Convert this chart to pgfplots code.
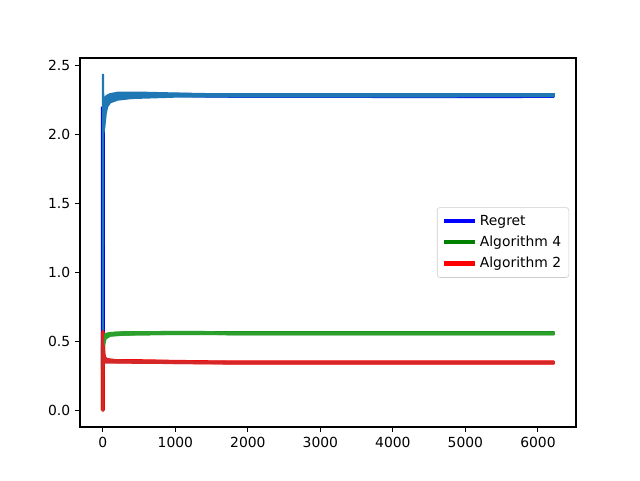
\documentclass[border=0pt]{standalone}
\usepackage{pgfplots}
\pgfplotsset{compat=1.18}
\usepackage{fontspec}
\setmainfont{DejaVu Sans}
\usetikzlibrary{calc}
\definecolor{tabblue}{HTML}{1F77B4}
\definecolor{tabgreen}{HTML}{2CA02C}
\definecolor{tabred}{HTML}{D62728}
\definecolor{mgreen}{RGB}{0,128,0}
\begin{document}
\begin{tikzpicture}
\begin{axis}[name=ax,
  scale only axis, width=357.1pt, height=265.7pt,
  xmin=-315, xmax=6525, ymin=-0.1215, ymax=2.552,
  xtick={0,1000,2000,3000,4000,5000,6000},
  ytick={0,0.5,1.0,1.5,2.0,2.5},
  yticklabel style={/pgf/number format/.cd, fixed, fixed zerofill, precision=1},
  xticklabel style={/pgf/number format/.cd, set thousands separator={}},
  /pgf/number format/assume math mode=true,
  tick align=outside, tick pos=left,
  major tick length=3.5pt,
  every tick/.style={black, line width=0.8pt},
  axis line style={line width=0.8pt},
  tick label style={font=\fontsize{10}{12}\selectfont},
  legend style={at={(0.986,0.5)}, anchor=east, draw=black!20, rounded corners=2pt,
    font=\fontsize{10}{12}\selectfont, row sep=2.2pt, inner sep=3.5pt},
  legend cell align=left,
  legend image code/.code={\draw[#1, line width=3pt] (0cm,0cm) -- (0.78cm,0cm);},
  clip=true,
]
% main lines
\addplot[blue, line width=3pt] coordinates {
(0,0.3)(1,2.1)(2,2.2)(3,2.15)(5,2.18)(10,2.12)(20,2.2)(40,2.22)(60,2.24)(100,2.25)(150,2.26)(200,2.27)(300,2.275)(400,2.28)(600,2.285)(800,2.28)(1000,2.285)(1500,2.28)(2000,2.278)(3000,2.278)(4000,2.277)(5000,2.276)(6220,2.278)};
\addlegendentry{Regret}
\addplot[mgreen, line width=3pt] coordinates {
(0,0.0)(1,0.35)(2,0.45)(5,0.5)(10,0.52)(20,0.535)(50,0.545)(100,0.55)(200,0.555)(500,0.558)(1000,0.56)(2000,0.558)(6220,0.558)};
\addlegendentry{Algorithm 4}
\addplot[red, line width=3pt] coordinates {
(0,0.0)(1,0.57)(2,0.5)(3,0.45)(5,0.42)(10,0.4)(20,0.38)(30,0.37)(50,0.365)(100,0.36)(200,0.355)(500,0.355)(800,0.352)(1000,0.35)(1500,0.347)(2000,0.346)(6220,0.346)};
\addlegendentry{Algorithm 2}
% bands
\addplot[fill=tabblue, draw=tabblue, line width=1.5pt, forget plot] coordinates {
(0,2.43)(2,2.43)(4,2.3)(10,2.25)(20,2.24)(40,2.27)(60,2.28)(100,2.29)(200,2.3)(300,2.3)(600,2.3)(1000,2.295)(1500,2.29)(2000,2.29)(6220,2.29)
(6220,2.274)(2000,2.272)(1000,2.272)(400,2.262)(200,2.25)(100,2.23)(60,2.2)(40,2.15)(20,2.05)(10,2.02)(3,2.0)(0,0.3)} -- cycle;
\addplot[fill=tabgreen, draw=tabgreen, line width=1.5pt, forget plot] coordinates {
(0,0.0)(1,0.45)(3,0.53)(10,0.545)(30,0.55)(100,0.56)(300,0.565)(1000,0.566)(2000,0.564)(6220,0.564)
(6220,0.552)(2000,0.552)(1000,0.554)(300,0.548)(100,0.54)(40,0.52)(20,0.48)(10,0.47)(3,0.46)(0,0.0)} -- cycle;
\addplot[fill=tabred, draw=tabred, line width=1.5pt, forget plot] coordinates {
(0,-0.01)(1,0.58)(3,0.5)(10,0.42)(20,0.39)(40,0.375)(100,0.365)(300,0.36)(800,0.357)(1000,0.354)(2000,0.35)(6220,0.35)
(6220,0.34)(2000,0.34)(1000,0.342)(300,0.345)(100,0.345)(30,0.345)(10,0.35)(3,0.36)(1,0.3)(0,-0.01)} -- cycle;
\end{axis}
\path[use as bounding box] ($(ax.south west)+(-57.6pt,-38.16pt)$) rectangle ($(ax.north east)+(46.08pt,41.76pt)$);
\end{tikzpicture}
\end{document}
